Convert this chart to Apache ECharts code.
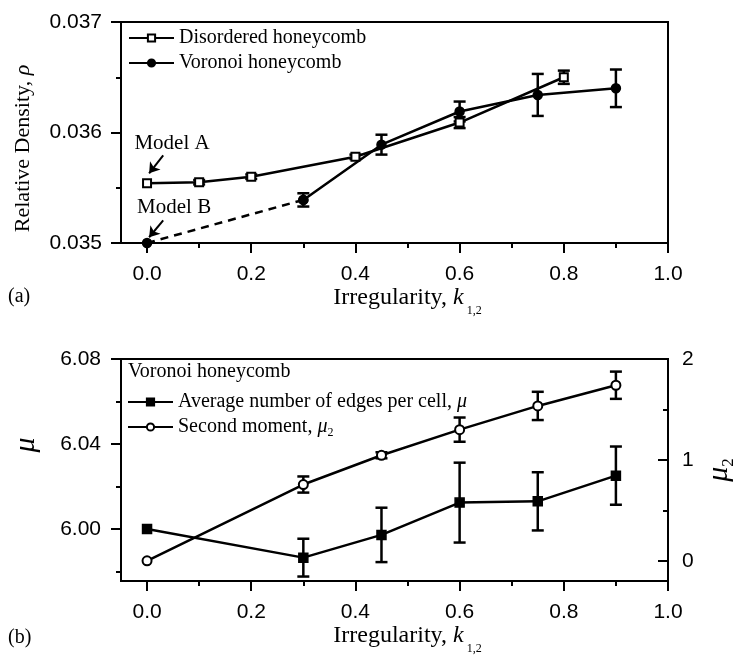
<!DOCTYPE html>
<html>
<head>
<meta charset="utf-8">
<script src="https://cdn.jsdelivr.net/npm/echarts@6/dist/echarts.min.js"></script>
<style>
  html, body { margin: 0; padding: 0; background: #fff; }
  #main { width: 740px; height: 655px; }
</style>
</head>
<body>
<div id="main"></div>
<script>
// panel (a): relative density
const disX = [0, 0.1, 0.2, 0.4, 0.6, 0.8]
const disRho = [0.03554, 0.03555, 0.0356, 0.03578, 0.03609, 0.0365]
const disErr = [0, 0.00002, 0.00002, 0.00002, 0.00005, 0.00006]
const vorX = [0, 0.3, 0.45, 0.6, 0.75, 0.9]
const vorRho = [0.035, 0.03539, 0.03589, 0.03619, 0.03634, 0.0364]
const vorErr = [0, 0.00006, 0.00009, 0.00009, 0.00019, 0.00017]

// panel (b): edges per cell
const muX = [0, 0.3, 0.45, 0.6, 0.75, 0.9]
const mu = [6.000, 5.9865, 5.9972, 6.0124, 6.013, 6.0251]
const muErr = [0, 0.0089, 0.0128, 0.0188, 0.0137, 0.0137]
const mu2 = [0, 0.756, 1.046, 1.30, 1.535, 1.74]
const mu2Err = [0, 0.08, 0.03, 0.12, 0.14, 0.135]

// ticks
const xMajor = [0, 0.2, 0.4, 0.6, 0.8, 1.0]
const xMinor = [0.1, 0.3, 0.5, 0.7, 0.9]
const rhoMajor = [0.035, 0.036, 0.037]
const rhoMinor = [0.0355, 0.0365]
const muMajor = [6.00, 6.04, 6.08]
const muMinor = [5.98, 6.02, 6.06]
const mu2Major = [0, 1, 2]
const mu2Minor = [0.5, 1.5]

const sans = 'Liberation Sans'
const serif = 'Liberation Serif'
const black = '#000'

const pairs = (xs, ys) => xs.map((x, i) => [x, ys[i]])
const bars = (xs, ys, es) => xs.map((x, i) => [x, ys[i] - es[i], ys[i] + es[i]]).filter(d => d[2] > d[1])

function errRender(params, api) {
  const x = api.value(0)
  const lo = api.coord([x, api.value(1)])
  const hi = api.coord([x, api.value(2)])
  const w = 6
  const st = { stroke: black, lineWidth: 2.5 }
  return {
    type: 'group',
    children: [
      { type: 'line', shape: { x1: lo[0], y1: lo[1], x2: hi[0], y2: hi[1] }, style: st },
      { type: 'line', shape: { x1: lo[0] - w, y1: lo[1], x2: lo[0] + w, y2: lo[1] }, style: st },
      { type: 'line', shape: { x1: hi[0] - w, y1: hi[1], x2: hi[0] + w, y2: hi[1] }, style: st }
    ]
  }
}

function axis(opts) {
  const { grid, min, max, major, minor, fmt, pos, inside, margin, minorAxis, name, nameGap, nameStyle } = opts
  const a = {
    gridIndex: grid,
    type: 'value',
    position: pos,
    min,
    max,
    splitLine: { show: false },
    axisLine: { show: !minorAxis, onZero: false, lineStyle: { color: black, width: 2 } },
    axisTick: {
      show: true,
      inside: !!inside,
      length: minorAxis ? 5 : 10,
      customValues: minorAxis ? minor : major,
      lineStyle: { color: black, width: 2 }
    },
    axisLabel: minorAxis ? { show: false } : {
      customValues: major,
      formatter: fmt,
      margin,
      color: black,
      fontFamily: sans,
      fontSize: 21
    }
  }
  if (name && !minorAxis) {
    a.name = name
    a.nameLocation = 'middle'
    a.nameGap = nameGap
    a.nameTextStyle = nameStyle
  }
  return a
}

const xName = '{n|Irregularity, }{i|k}{s|1,2}'
const xNameStyle = {
  color: black,
  fontFamily: serif,
  fontSize: 24,
  padding: [0, 0, 0, 26],
  rich: {
    n: { fontFamily: serif, fontSize: 24, color: black },
    i: { fontFamily: serif, fontSize: 24, fontStyle: 'italic', color: black },
    s: { fontFamily: serif, fontSize: 12, color: black, padding: [26, 0, 0, 3] }
  }
}
const fx = v => v.toFixed(1)

const xAxes = []
const yAxes = []
for (const g of [0, 1]) {
  xAxes.push(axis({ grid: g, min: -0.05, max: 1.0, major: xMajor, fmt: fx, pos: 'bottom', margin: 21, name: xName, nameGap: 32, nameStyle: xNameStyle }))
  xAxes.push(axis({ grid: g, min: -0.05, max: 1.0, minor: xMinor, pos: 'bottom', minorAxis: true }))
}
yAxes.push(axis({
  grid: 0, min: 0.035, max: 0.037, major: rhoMajor, fmt: v => v.toFixed(3), pos: 'left', margin: 19,
  name: '{n|Relative Density, }{i|ρ}', nameGap: 87,
  nameStyle: {
    color: black, fontFamily: serif, fontSize: 22,
    padding: [0, 32, 0, 0],
    rich: {
      n: { fontFamily: serif, fontSize: 22, color: black },
      i: { fontFamily: serif, fontSize: 22, fontStyle: 'italic', color: black }
    }
  }
}))
yAxes.push(axis({ grid: 0, min: 0.035, max: 0.037, minor: rhoMinor, pos: 'left', minorAxis: true }))
yAxes.push(axis({
  grid: 1, min: 5.9755, max: 6.08, major: muMajor, fmt: v => v.toFixed(2), pos: 'left', margin: 20,
  name: 'μ', nameGap: 80,
  nameStyle: { color: black, fontFamily: serif, fontSize: 30, fontStyle: 'italic', padding: [0, 0, 0, 50] }
}))
yAxes.push(axis({ grid: 1, min: 5.9755, max: 6.08, minor: muMinor, pos: 'left', minorAxis: true }))
yAxes.push(axis({
  grid: 1, min: -0.2, max: 2, major: mu2Major, fmt: v => String(v), pos: 'right', inside: true, margin: 14,
  name: '{i|μ}{s|2}', nameGap: 33,
  nameStyle: {
    color: black, fontFamily: serif, fontSize: 30,
    rich: {
      i: { fontFamily: serif, fontSize: 30, fontStyle: 'italic', color: black },
      s: { fontFamily: serif, fontSize: 17, color: black, padding: [18, 0, 0, 0] }
    }
  }
}))
yAxes[4].nameRotate = 90
yAxes.push(axis({ grid: 1, min: -0.2, max: 2, minor: mu2Minor, pos: 'right', inside: true, minorAxis: true }))

const lineBase = {
  type: 'line',
  symbolSize: 9,
  z: 3,
  lineStyle: { color: black, width: 2.5 },
  itemStyle: { color: black, borderColor: black, borderWidth: 1.5 },
  animation: false
}
const errBase = {
  type: 'custom',
  renderItem: errRender,
  encode: { x: 0, y: [1, 2] },
  z: 2,
  silent: true,
  animation: false
}

const muName = 'Average number of edges per cell, μ'
const mu2Name = 'Second moment, μ2'

const option = {
  animation: false,
  backgroundColor: '#fff',
  grid: [
    { left: 121, top: 22, width: 547, height: 221, show: true, borderColor: black, borderWidth: 2, outerBoundsMode: 'none' },
    { left: 121, top: 359, width: 547, height: 222, show: true, borderColor: black, borderWidth: 2, outerBoundsMode: 'none' }
  ],
  xAxis: xAxes,
  yAxis: yAxes,
  legend: [
    {
      data: ['Disordered honeycomb', 'Voronoi honeycomb'],
      orient: 'vertical', left: 128, top: 28, padding: 0, itemWidth: 45, itemHeight: 9, itemGap: 5,
      textStyle: { fontFamily: serif, fontSize: 20, color: black },
      selectedMode: false
    },
    {
      data: [muName, mu2Name],
      orient: 'vertical', left: 127, top: 392, padding: 0, itemWidth: 45, itemHeight: 9, itemGap: 5,
      formatter: n => n === muName ? 'Average number of edges per cell, {i|μ}' : 'Second moment, {i|μ}{s|2}',
      textStyle: {
        fontFamily: serif, fontSize: 20, color: black,
        rich: {
          i: { fontFamily: serif, fontSize: 20, fontStyle: 'italic', color: black },
          s: { fontFamily: serif, fontSize: 12, color: black, padding: [12, 0, 0, 0] }
        }
      },
      selectedMode: false
    }
  ],
  graphic: [
    { type: 'text', left: 8, top: 287, style: { text: '(a)', font: '20px "Liberation Serif"', fill: black } },
    { type: 'text', left: 8, top: 628, style: { text: '(b)', font: '20px "Liberation Serif"', fill: black } },
    { type: 'text', left: 128, top: 362, style: { text: 'Voronoi honeycomb', font: '20px "Liberation Serif"', fill: black } }
  ],
  series: [
    Object.assign({}, errBase, { xAxisIndex: 0, yAxisIndex: 0, data: bars(disX, disRho, disErr) }),
    Object.assign({}, errBase, { xAxisIndex: 0, yAxisIndex: 0, data: bars(vorX, vorRho, vorErr) }),
    Object.assign({}, lineBase, {
      name: 'Voronoi dashed', xAxisIndex: 0, yAxisIndex: 0, symbol: 'circle',
      data: pairs(vorX.slice(0, 2), vorRho.slice(0, 2)),
      lineStyle: { color: black, width: 2.5, type: [8, 6] }
    }),
    Object.assign({}, lineBase, {
      name: 'Disordered honeycomb', xAxisIndex: 0, yAxisIndex: 0, symbol: 'emptyRect', symbolSize: 8,
      data: pairs(disX, disRho),
      markLine: {
        silent: true, symbol: ['none', 'arrow'], symbolSize: 10,
        label: { show: false },
        lineStyle: { color: black, width: 2, type: 'solid' },
        data: [
          [{ coord: [0.031, 0.035794] }, { coord: [0.004, 0.035631] }],
          [{ coord: [0.031, 0.035205] }, { coord: [0.004, 0.035052] }]
        ]
      },
      markPoint: {
        silent: true, symbol: 'circle', symbolSize: 0,
        label: { show: true, position: 'inside', color: black, fontFamily: serif, fontSize: 21, formatter: p => p.name },
        data: [
          { name: 'Model A', coord: [0.048, 0.035902] },
          { name: 'Model B', coord: [0.052, 0.035323] }
        ]
      }
    }),
    Object.assign({}, lineBase, {
      name: 'Voronoi honeycomb', xAxisIndex: 0, yAxisIndex: 0, symbol: 'circle',
      data: pairs(vorX.slice(1), vorRho.slice(1))
    }),
    Object.assign({}, errBase, { xAxisIndex: 2, yAxisIndex: 2, data: bars(muX, mu, muErr) }),
    Object.assign({}, errBase, { xAxisIndex: 2, yAxisIndex: 4, data: bars(muX, mu2, mu2Err) }),
    Object.assign({}, lineBase, {
      name: muName, xAxisIndex: 2, yAxisIndex: 2, symbol: 'rect',
      data: pairs(muX, mu)
    }),
    Object.assign({}, lineBase, {
      name: mu2Name, xAxisIndex: 2, yAxisIndex: 4, symbol: 'emptyCircle',
      data: pairs(muX, mu2)
    })
  ]
}

const chart = echarts.init(document.getElementById('main'))
chart.setOption(option)
</script>
</body>
</html>
